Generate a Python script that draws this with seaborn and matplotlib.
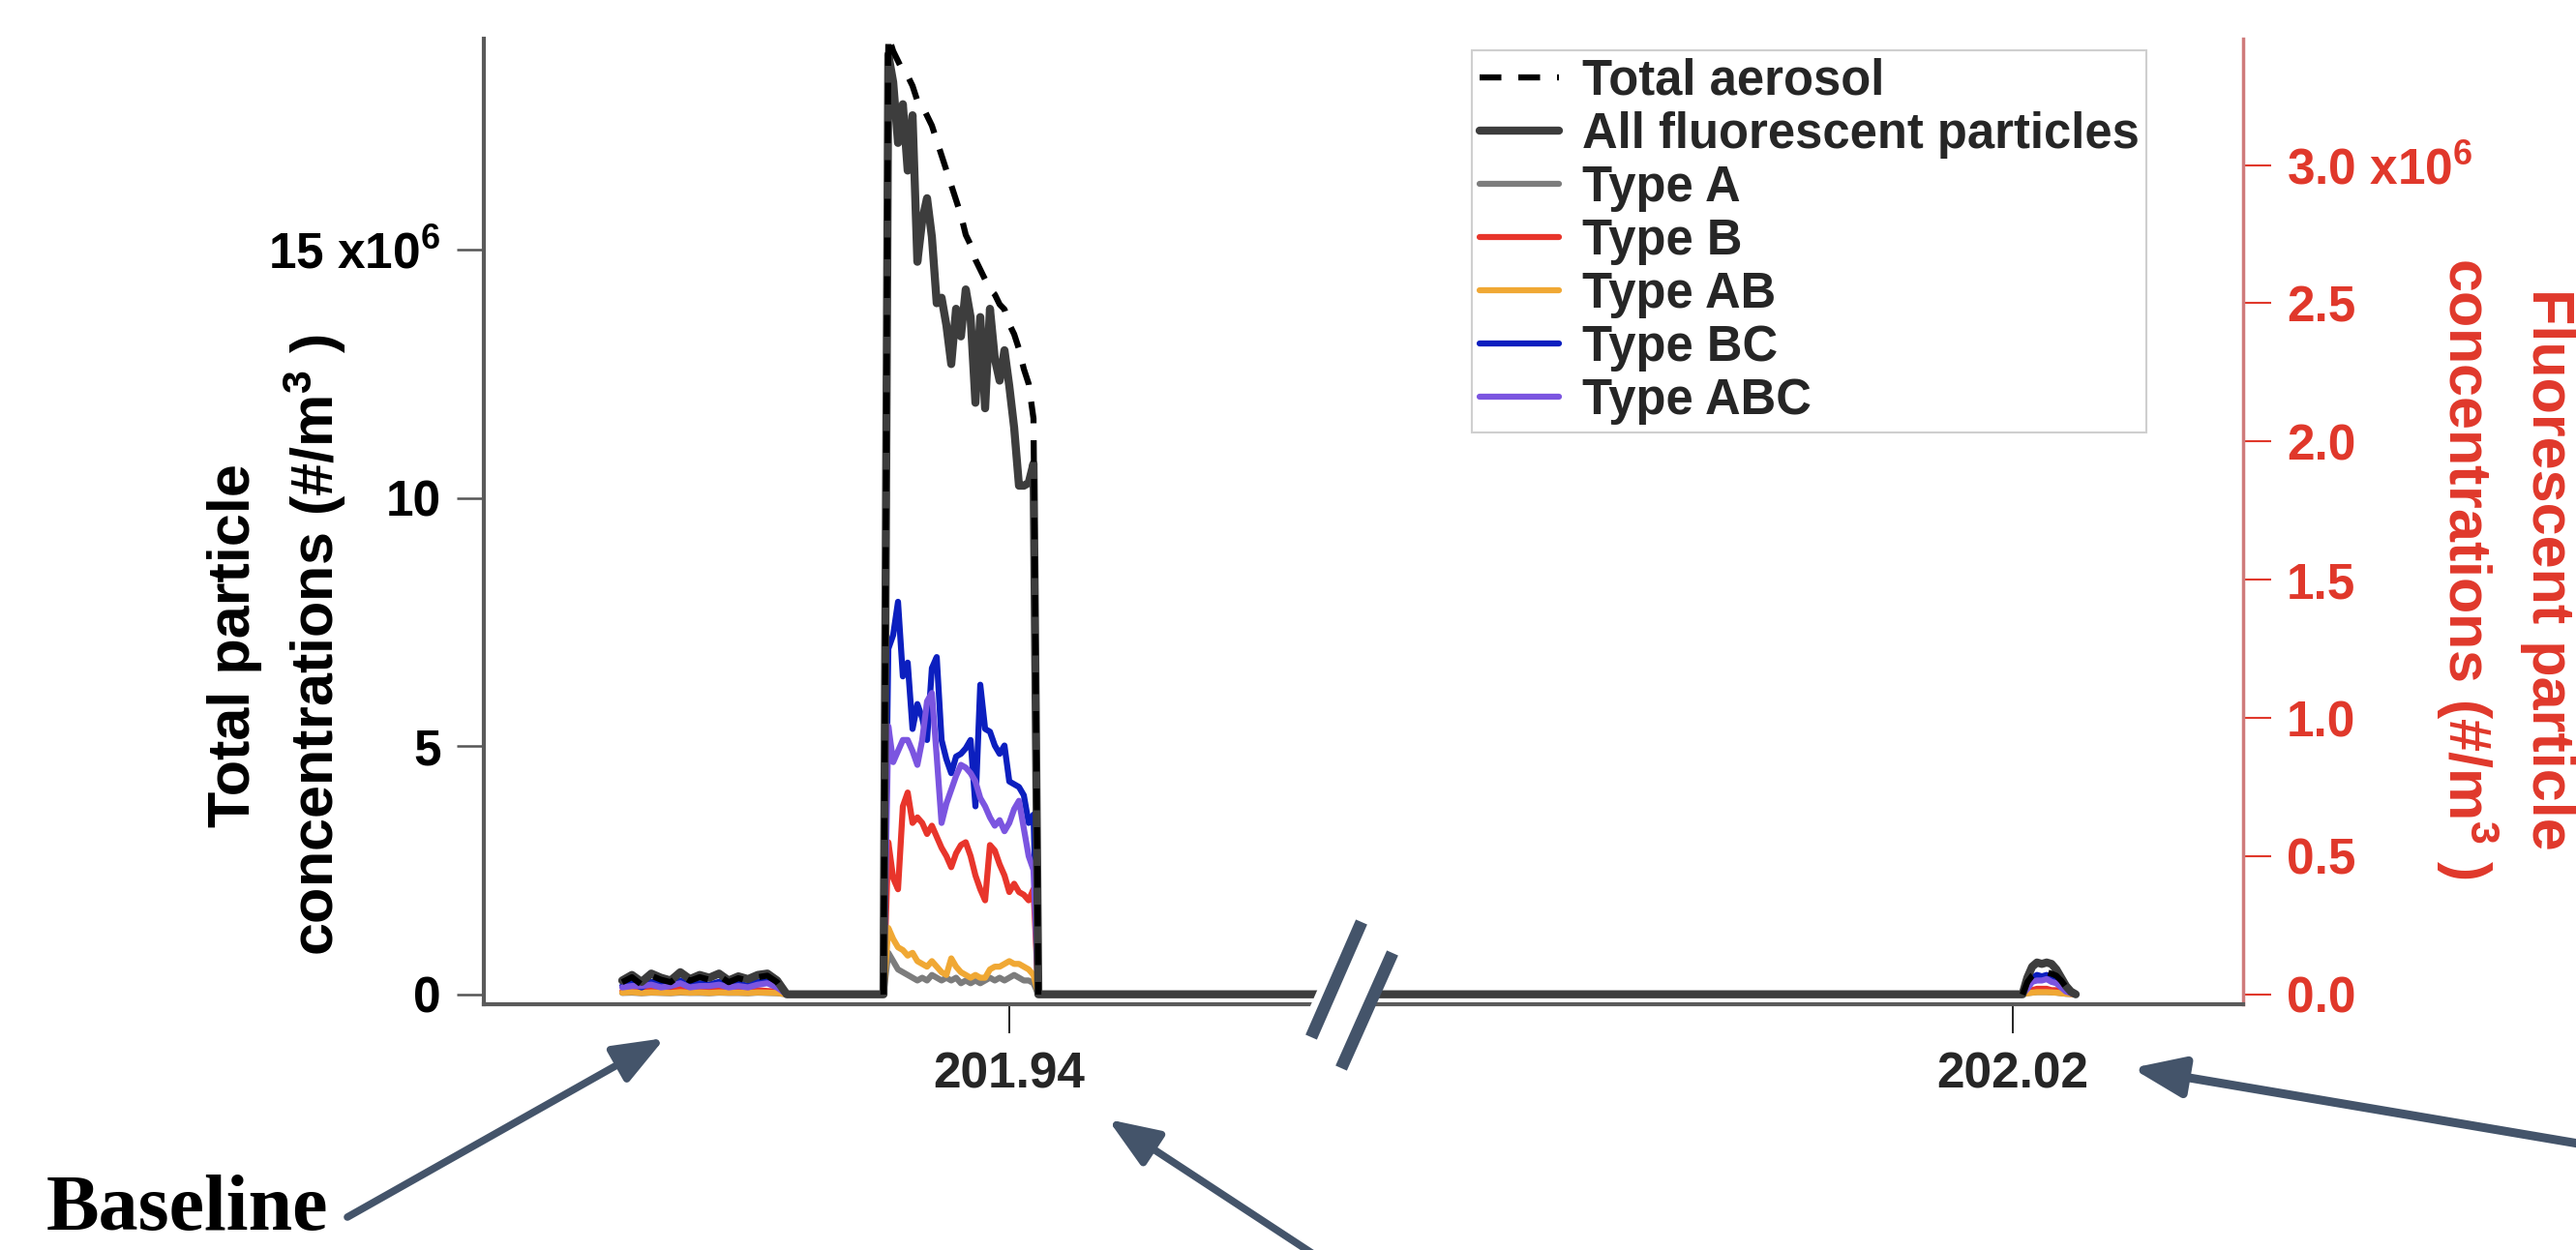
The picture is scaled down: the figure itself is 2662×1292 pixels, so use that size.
import numpy as np
import pandas as pd
import matplotlib
matplotlib.use("Agg")
import matplotlib.pyplot as plt
import seaborn as sns
from matplotlib.lines import Line2D
from matplotlib.patches import FancyArrowPatch, Polygon, ArrowStyle

# ---------------- data (concentrations in units of 10^6 #/m^3, time in day of year) ----------------
time_base = [201.9320, 201.9322, 201.9324, 201.9326, 201.9328, 201.9330, 201.9332, 201.9334,
             201.9336, 201.9338, 201.9340, 201.9342, 201.9344, 201.9346, 201.9348, 201.9350, 201.9352]
time_plume = [201.9375, 201.9376, 201.9377, 201.9378, 201.9379, 201.9380, 201.9381, 201.9382,
              201.9383, 201.9384, 201.9385, 201.9386, 201.9387, 201.9388, 201.9389, 201.9390,
              201.9391, 201.9392, 201.9393, 201.9394, 201.9395, 201.9396, 201.9397, 201.9398,
              201.9399, 201.9400, 201.9401, 201.9402, 201.9403, 201.9404, 201.9405]
time_bump = [202.0203, 202.0204, 202.0205, 202.0206, 202.0207, 202.0208, 202.0209, 202.0210,
             202.0211, 202.0212]
# instants where the signal sits flat at zero (between events)
time_flat = [201.9354, 201.9374, 201.9406, 201.9469, 202.0063, 202.0202, 202.0213]

# Total aerosol (left axis)
total_base = [0.25, 0.35, 0.20, 0.38, 0.30, 0.25, 0.40, 0.28, 0.35, 0.30, 0.38, 0.25, 0.33, 0.28, 0.35, 0.38, 0.25]
total_plume = [19.3, 19.0, 18.8, 18.6, 18.5, 18.3, 18.0, 17.9, 17.7, 17.5, 17.2, 16.9, 16.6, 16.3, 16.0, 15.7,
               15.3, 15.1, 14.8, 14.6, 14.4, 14.2, 14.1, 13.9, 13.8, 13.5, 13.3, 13.0, 12.6, 12.3, 11.6]
total_bump = [0.25, 0.38, 0.45, 0.45, 0.45, 0.42, 0.38, 0.28, 0.15, 0.04]

# Fluorescent particles (right axis)
fluo_base = [0.05, 0.07, 0.045, 0.075, 0.06, 0.05, 0.08, 0.055, 0.07, 0.06, 0.075, 0.05, 0.065, 0.055, 0.07, 0.075, 0.05]
fluo_plume = [3.40, 3.30, 3.08, 3.22, 2.98, 3.18, 2.65, 2.80, 2.88, 2.74, 2.50, 2.52, 2.42, 2.28, 2.48, 2.38,
              2.55, 2.45, 2.14, 2.45, 2.12, 2.48, 2.30, 2.22, 2.33, 2.20, 2.05, 1.84, 1.84, 1.85, 1.92]
fluo_bump = [0.06, 0.10, 0.115, 0.11, 0.115, 0.11, 0.09, 0.06, 0.03, 0.01]

a_base = [0.005, 0.006, 0.004, 0.006, 0.005, 0.004, 0.006, 0.005, 0.005, 0.004, 0.006, 0.005, 0.005, 0.004, 0.006, 0.005, 0.004]
a_plume = [0.15, 0.12, 0.09, 0.08, 0.07, 0.06, 0.05, 0.06, 0.05, 0.07, 0.06, 0.05, 0.06, 0.05, 0.06, 0.04,
           0.05, 0.04, 0.05, 0.04, 0.05, 0.06, 0.05, 0.06, 0.05, 0.06, 0.07, 0.06, 0.05, 0.05, 0.04]
a_bump = [0.004, 0.006, 0.008, 0.008, 0.008, 0.007, 0.006, 0.004, 0.002, 0.001]

b_base = [0.010, 0.015, 0.010, 0.015, 0.012, 0.010, 0.020, 0.010, 0.015, 0.012, 0.015, 0.010, 0.012, 0.010, 0.015, 0.012, 0.010]
b_plume = [0.55, 0.42, 0.38, 0.68, 0.73, 0.62, 0.64, 0.62, 0.58, 0.61, 0.57, 0.53, 0.50, 0.46, 0.51, 0.54,
           0.55, 0.50, 0.43, 0.38, 0.34, 0.54, 0.52, 0.47, 0.43, 0.37, 0.40, 0.37, 0.36, 0.34, 0.38]
b_bump = [0.010, 0.015, 0.020, 0.020, 0.020, 0.015, 0.015, 0.010, 0.005, 0.002]

ab_base = [0.006, 0.008, 0.005, 0.007, 0.006, 0.005, 0.008, 0.006, 0.007, 0.005, 0.007, 0.006, 0.006, 0.005, 0.007, 0.006, 0.005]
ab_plume = [0.24, 0.20, 0.17, 0.16, 0.14, 0.15, 0.12, 0.11, 0.10, 0.12, 0.10, 0.08, 0.07, 0.13, 0.10, 0.08,
            0.07, 0.06, 0.07, 0.06, 0.06, 0.09, 0.10, 0.10, 0.11, 0.12, 0.11, 0.11, 0.10, 0.09, 0.07]
ab_bump = [0.004, 0.006, 0.008, 0.008, 0.008, 0.007, 0.006, 0.004, 0.002, 0.001]

bc_base = [0.030, 0.040, 0.025, 0.045, 0.035, 0.030, 0.050, 0.030, 0.040, 0.035, 0.045, 0.030, 0.040, 0.030, 0.045, 0.045, 0.030]
bc_plume = [1.25, 1.30, 1.42, 1.15, 1.20, 0.96, 1.05, 1.00, 0.92, 1.18, 1.22, 0.92, 0.85, 0.80, 0.86, 0.87,
            0.89, 0.92, 0.68, 1.12, 0.96, 0.95, 0.90, 0.87, 0.90, 0.77, 0.76, 0.75, 0.72, 0.62, 0.65]
bc_bump = [0.03, 0.06, 0.07, 0.065, 0.07, 0.06, 0.05, 0.03, 0.015, 0.005]

abc_base = [0.025, 0.030, 0.030, 0.035, 0.025, 0.030, 0.040, 0.025, 0.030, 0.030, 0.035, 0.025, 0.030, 0.025, 0.035, 0.040, 0.025]
abc_plume = [0.97, 0.84, 0.88, 0.92, 0.92, 0.88, 0.83, 0.92, 1.06, 1.09, 0.86, 0.62, 0.69, 0.74, 0.79, 0.83,
             0.82, 0.80, 0.77, 0.71, 0.68, 0.64, 0.61, 0.63, 0.59, 0.62, 0.67, 0.70, 0.60, 0.50, 0.45]
abc_bump = [0.02, 0.045, 0.05, 0.05, 0.055, 0.045, 0.04, 0.025, 0.01, 0.005]

flat_level = 0.0

series_labels = ["Total aerosol", "All fluorescent particles", "Type A", "Type B",
                 "Type AB", "Type BC", "Type ABC"]
left_ticks = [0, 5, 10, 15]
left_tick_labels = ["0", "5", "10", "15 x10$^{6}$"]
right_ticks = [0.0, 0.5, 1.0, 1.5, 2.0, 2.5, 3.0]
right_tick_labels = ["0.0", "0.5", "1.0", "1.5", "2.0", "2.5", "3.0 x10$^{6}$"]
x_ticks = [201.94, 202.02]
x_tick_labels = ["201.94", "202.02"]

# ---------------- styling ----------------
RED = "#e0382b"
SLATE = "#44546a"
colors = {"Total aerosol": "black", "All fluorescent particles": "#3d3d3d", "Type A": "#7c7c7c",
          "Type B": "#e8352b", "Type AB": "#f0a834", "Type BC": "#0c1fbf", "Type ABC": "#7b55e0"}
lwidths = {"Total aerosol": 4.5, "All fluorescent particles": 6.0, "Type A": 4.5, "Type B": 4.5,
           "Type AB": 4.5, "Type BC": 4.5, "Type ABC": 4.5}
DASH = (0, (3.6, 2.8))

sns.set_theme(style="ticks")
plt.rcParams["font.family"] = ["Liberation Sans", "DejaVu Sans"]
plt.rcParams["font.weight"] = "bold"
plt.rcParams["mathtext.fontset"] = "custom"
plt.rcParams["mathtext.rm"] = "Liberation Sans:bold"
plt.rcParams["mathtext.bf"] = "Liberation Sans:bold"
plt.rcParams["mathtext.it"] = "Liberation Sans:bold"
plt.rcParams["mathtext.default"] = "bf"

W, H = 2662, 1292
fig = plt.figure(figsize=(W / 100, H / 100), dpi=100, facecolor="white")
ax = fig.add_axes([500 / W, 1 - 1038 / H, 1818 / W, 998 / H])
ax2 = ax.twinx()
ax.set_zorder(3)
ax2.set_zorder(2)
ax.patch.set_visible(False)


def fluo_frame(base, plume, bump):
    t = np.concatenate([time_base, time_flat[:2], time_plume, time_flat[2:6], time_bump, time_flat[6:]])
    v = np.concatenate([base, [flat_level] * 2, plume, [flat_level] * 4, bump, [flat_level]])
    return pd.DataFrame({"time": t, "conc": v})


fluo_sets = [("Type A", a_base, a_plume, a_bump),
             ("Type B", b_base, b_plume, b_bump),
             ("Type AB", ab_base, ab_plume, ab_bump),
             ("Type BC", bc_base, bc_plume, bc_bump),
             ("Type ABC", abc_base, abc_plume, abc_bump),
             ("All fluorescent particles", fluo_base, fluo_plume, fluo_bump)]
for name, base, plume, bump in fluo_sets:
    df = fluo_frame(base, plume, bump)
    sns.lineplot(data=df, x="time", y="conc", ax=ax2, color=colors[name], linewidth=lwidths[name],
                 estimator=None, sort=False, legend=False)

# total aerosol: three separate measured pieces
tot_t = np.concatenate([time_base, time_flat[:1], time_flat[1:2], time_plume, time_flat[2:3],
                        time_flat[5:6], time_bump, time_flat[6:]])
tot_v = np.concatenate([total_base, [flat_level], [flat_level], total_plume, [flat_level],
                        [flat_level], total_bump, [flat_level]])
tot_seg = ([0] * (len(time_base) + 1) + [1] * (len(time_plume) + 2) + [2] * (len(time_bump) + 2))
df_tot = pd.DataFrame({"time": tot_t, "conc": tot_v, "segment": tot_seg})
sns.lineplot(data=df_tot, x="time", y="conc", units="segment", estimator=None, ax=ax,
             color=colors["Total aerosol"], linewidth=lwidths["Total aerosol"], linestyle=DASH,
             sort=False, legend=False)

# ---------------- broken x axis via a piecewise scale ----------------
B1, B2 = 201.94698, 202.00624
GAP = B2 - B1


def fwd(x):
    x = np.asarray(x, dtype=float)
    return np.where(x <= B1, x, np.where(x >= B2, x - GAP, B1))


def inv(u):
    u = np.asarray(u, dtype=float)
    return np.where(u <= B1, u, u + GAP)


ax.set_xscale("function", functions=(fwd, inv))
ax.set_xlim(201.92914, 202.02476)
ax.set_ylim(-0.195, 19.25)
ax2.set_ylim(-0.036, 3.457)

ax.set_xticks(x_ticks)
ax.set_xticklabels(x_tick_labels)
ax.xaxis.set_minor_locator(matplotlib.ticker.NullLocator())
ax.set_yticks(left_ticks)
ax.set_yticklabels(left_tick_labels)
ax2.set_yticks(right_ticks)
ax2.set_yticklabels(right_tick_labels)

ax.tick_params(axis="y", direction="out", length=20, width=1.8, color="#555555", pad=12,
               labelsize=37, labelcolor="black")
ax.tick_params(axis="x", direction="out", length=21.6, width=1.2, color="black", pad=13, labelsize=37)
ax2.tick_params(axis="y", direction="out", length=21, width=1.5, color=RED, labelcolor=RED,
                pad=11.5, labelsize=37)

for s in ["top", "right"]:
    ax.spines[s].set_visible(False)
for s in ["left", "bottom"]:
    ax.spines[s].set_color("#5a5a5a")
    ax.spines[s].set_linewidth(3)
for s in ["top", "left", "bottom"]:
    ax2.spines[s].set_visible(False)
ax2.spines["right"].set_color("#cf7b7b")
ax2.spines["right"].set_linewidth(2.5)

ax.set_xlabel("")
ax.set_ylabel("Total particle\nconcentrations (#/m$^{3}$ )", fontsize=44, fontweight="bold",
              color="black", linespacing=1.35)
ax.yaxis.set_label_coords(-0.0770, 0.372)
ax2.set_xlabel("")
ax2.set_ylabel("Fluorescent particle\nconcentrations (#/m$^{3}$ )", fontsize=44, fontweight="bold",
               color=RED, rotation=270, va="bottom", linespacing=1.35)
ax2.yaxis.set_label_coords(1.1084, 0.451)

# ---------------- legend ----------------
handles = []
for name in series_labels:
    ls = DASH if name == "Total aerosol" else "-"
    handles.append(Line2D([], [], color=colors[name], lw=lwidths[name], linestyle=ls))
leg = ax.legend(handles, series_labels, loc="upper right", bbox_to_anchor=(2218 / W, 1 - 52 / H),
                bbox_transform=fig.transFigure, borderaxespad=0, prop={"weight": "bold", "size": 36.5},
                labelspacing=0.12, handlelength=1.62, handletextpad=0.47, borderpad=0.15,
                fancybox=False, framealpha=1, frameon=True)
leg.get_frame().set_edgecolor("#cfcfcf")
leg.get_frame().set_linewidth(1.5)


# ---------------- annotations (break mark, arrows, label) ----------------
def fp(x, y):
    return (x / W, 1 - y / H)


gap_patch = Polygon([fp(1392, 953), fp(1439, 985), fp(1386, 1104), fp(1340, 1072)], closed=True,
                    transform=fig.transFigure, facecolor="white", edgecolor="none", zorder=10)
fig.add_artist(gap_patch)
for (xa, ya), (xb, yb) in [((1407, 953), (1355, 1072)), ((1439, 985), (1386, 1104))]:
    p1, p2 = fp(xa, ya), fp(xb, yb)
    fig.add_artist(Line2D([p1[0], p2[0]], [p1[1], p2[1]], transform=fig.transFigure, lw=9.2,
                          color=SLATE, solid_capstyle="butt", zorder=11))

arrows = [((359, 1258), (687, 1073), 5.5), ((1363, 1300), (1145, 1157), 5.5),
          ((2700, 1188), (2203, 1104), 6.5)]
for tail, tip, lw in arrows:
    fig.add_artist(FancyArrowPatch(posA=fp(*tail), posB=fp(*tip), transform=fig.transFigure,
                                   arrowstyle=ArrowStyle("-|>", head_length=3.2, head_width=1.25),
                                   mutation_scale=10, lw=lw, color=SLATE, shrinkA=0, shrinkB=0,
                                   zorder=12))

fig.text(*fp(48, 1271), "Baseline", fontsize=59, family=["Liberation Serif", "DejaVu Serif"],
         weight="bold", ha="left", va="baseline", color="black")

fig.savefig("out.png", dpi=100, facecolor="white")
